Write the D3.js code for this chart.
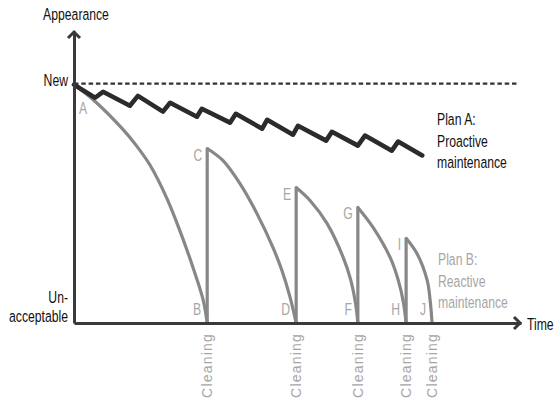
<!DOCTYPE html>
<html>
	<head>
		<meta charset="utf-8">
		<script src="https://cdn.jsdelivr.net/npm/d3@7"></script>
		<title>Proactive vs reactive maintenance</title>
		<style>
			body { margin:0; background:#fff; }
			text { font-family:"Liberation Sans", Arimo, Arial, Helvetica, sans-serif; }
		</style>
	</head>
	<body>
		<script type="text/javascript" charset="utf-8">
			// time runs 0..100, appearance 0 (unacceptable) .. 100 (new)
			var planA = [[0,99.6],[4.7,94.1],[6.5,96.6],[12.5,90.8],[14.3,94.9],[19.9,88.3],[21.5,92.0],
				[27.5,86.2],[28.6,89.5],[34.9,83.7],[36.2,87.4],[42.1,81.2],[43.2,84.9],[49.0,78.7],[50.1,82.4],
				[56.4,76.2],[57.7,79.9],[63.5,74.1],[65.1,78.3],[71.1,72.0],[72.5,75.8],[77.9,70.0]];

			var arcAB = [[0,99.6],[4.3,93.3],[11.0,80.8],[14.0,74.0],[17.0,66.0],[20.8,52.0],[23.7,38.5],[26.6,23.3],[28.9,9.6],[29.8,0]];
			var arcCD = [[29.8,72.9],[33.3,67.9],[37.1,58.3],[40.9,45.8],[44.5,31.6],[46.5,22.0],[48.3,11.0],[49.7,0]];
			var arcEF = [[49.7,56.6],[52.8,51.2],[56.6,41.6],[60.2,27.5],[61.9,18.0],[63.0,8.0],[63.5,0]];
			var arcGH = [[63.5,48.3],[66.9,40.0],[70.7,27.5],[72.6,17.5],[73.7,8.5],[74.3,0]];
			var arcIJ = [[74.3,35.4],[76.7,29.1],[79.0,17.9],[79.7,9.0],[80.1,0]];
			var planB = [arcAB, arcCD, arcEF, arcGH, arcIJ];

			var cleanings = [29.8, 49.7, 63.5, 74.3, 80.1];
			var letters = ["A","B","C","D","E","F","G","H","I","J"];
			var planALabel = ["Plan A:", "Proactive", "maintenance"];
			var planBLabel = ["Plan B:", "Reactive", "maintenance"];

			var width = 558, height = 400;
			var svg = d3.select("body").append("svg")
				.attr("width", width)
				.attr("height", height);

			var x = d3.scaleLinear().domain([0, 100]).range([74, 521]);
			var y = d3.scaleLinear().domain([0, 122]).range([323, 31]);

			// condensed look: squeeze the regular sans horizontally
			function narrowText(g, px, py, str, anchor, color){
				return g.append("text")
					.attr("transform", "translate(" + px + "," + py + ") scale(0.74,1)")
					.attr("text-anchor", anchor || "start")
					.attr("font-size", 16.5)
					.attr("fill", color || "#111")
					.text(str);
			}

			// "new" reference line
			svg.append("line")
				.attr("x1", x(0)).attr("x2", x(99.2))
				.attr("y1", y(100)).attr("y2", y(100))
				.attr("stroke", "#333")
				.attr("stroke-width", 2.4)
				.attr("stroke-dasharray", "4.5,2.8");

			// plan B: reactive
			var arc = d3.line()
				.x(function(d){ return x(d[0]); })
				.y(function(d){ return y(d[1]); })
				.curve(d3.curveCatmullRom.alpha(0.5));
			svg.selectAll(".arc")
				.data(planB)
				.enter().append("path")
				.attr("class", "arc")
				.attr("d", arc)
				.attr("fill", "none")
				.attr("stroke", "#878787")
				.attr("stroke-width", 3.2);
			svg.selectAll(".jump")
				.data(planB.slice(1))
				.enter().append("line")
				.attr("class", "jump")
				.attr("x1", function(d){ return x(d[0][0]); })
				.attr("x2", function(d){ return x(d[0][0]); })
				.attr("y1", y(0))
				.attr("y2", function(d){ return y(d[0][1]); })
				.attr("stroke", "#878787")
				.attr("stroke-width", 3.2)
				.attr("stroke-linecap", "round");

			// letters at the start and end of every arc
			planB.forEach(function(a, i){
				var s = a[0], e = a[a.length - 1];
				if (i == 0)
					narrowText(svg, x(s[0]) + 5, y(s[1]) + 29, letters[0], "start", "#a6a6a6");
				else
					narrowText(svg, x(s[0]) - 5, y(s[1]) + 12, letters[i*2], "end", "#a6a6a6");
				narrowText(svg, x(e[0]) - 6, y(e[1]) - 8, letters[i*2 + 1], "end", "#a6a6a6");
			});

			// plan A: proactive
			svg.append("path")
				.datum(planA)
				.attr("d", d3.line()
					.x(function(d){ return x(d[0]); })
					.y(function(d){ return y(d[1]); }))
				.attr("fill", "none")
				.attr("stroke", "#2b2b2b")
				.attr("stroke-width", 4.6)
				.attr("stroke-linejoin", "round")
				.attr("stroke-linecap", "round");

			// axes
			svg.append("g")
				.attr("transform", "translate(0," + y(0) + ")")
				.call(d3.axisBottom(x).tickValues([]).tickSizeOuter(0))
				.select(".domain").attr("stroke", "#3a3a3a").attr("stroke-width", 3);
			svg.append("g")
				.attr("transform", "translate(" + x(0) + ",0)")
				.call(d3.axisLeft(y).tickValues([]).tickSizeOuter(0))
				.select(".domain").attr("stroke", "#3a3a3a").attr("stroke-width", 3);

			var y0 = y.range()[1], x1 = x.range()[1];
			svg.append("path")
				.attr("d", "M" + (x(0) - 6) + "," + (y0 + 7) + "L" + x(0) + "," + (y0 + 1) + "L" + (x(0) + 6) + "," + (y0 + 7))
				.attr("fill", "none").attr("stroke", "#3a3a3a").attr("stroke-width", 3);
			svg.append("path")
				.attr("d", "M" + (x1 - 7) + "," + (y(0) - 6) + "L" + (x1 - 1) + "," + y(0) + "L" + (x1 - 7) + "," + (y(0) + 6))
				.attr("fill", "none").attr("stroke", "#3a3a3a").attr("stroke-width", 3);

			// axis labels
			narrowText(svg, x(0) + 2, 20, "Appearance", "middle");
			narrowText(svg, x(0) - 6, y(100) + 2, "New", "end");
			narrowText(svg, x(0) - 6, y(0) - 20, "Un-", "end");
			narrowText(svg, x(0) - 6, y(0) - 1, "acceptable", "end");
			narrowText(svg, x1 + 6, y(0) + 7, "Time", "start");

			// cleaning markers
			svg.selectAll(".clean")
				.data(cleanings)
				.enter().append("text")
				.attr("class", "clean")
				.attr("transform", function(d){ return "translate(" + (x(d) + 5) + "," + (y(0) + 10) + ") rotate(-90)"; })
				.attr("text-anchor", "end")
				.attr("font-size", 14)
				.attr("letter-spacing", 1.2)
				.attr("fill", "#a6a6a6")
				.text("Cleaning");

			// series labels
			planALabel.forEach(function(s, i){
				narrowText(svg, 437, 125 + i*21.5, s, "start", "#111");
			});
			planBLabel.forEach(function(s, i){
				narrowText(svg, 438, 265 + i*21.5, s, "start", "#a6a6a6");
			});
		</script>
	</body>
</html>
